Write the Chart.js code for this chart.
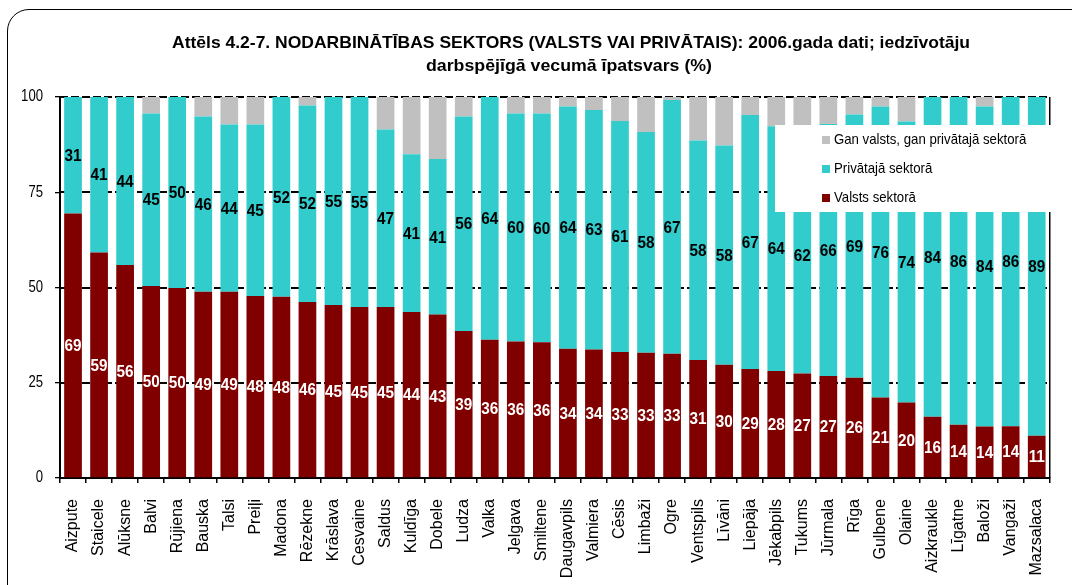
<!DOCTYPE html>
<html><head><meta charset="utf-8">
<script src="https://cdn.jsdelivr.net/npm/chart.js@4/dist/chart.umd.min.js"></script>
<style>
html,body{margin:0;padding:0;background:#fff;}
#wrap{position:relative;width:1072px;height:585px;overflow:hidden;}
#frame{position:absolute;left:7px;top:9px;width:1100px;height:640px;border:1.5px solid #000;border-radius:22px;box-sizing:border-box;}
canvas{position:absolute;left:0;top:0;}
</style></head><body>
<div id="wrap"><div id="frame"></div><canvas id="c" width="1072" height="585"></canvas></div>
<script>
const titleLines = [
  'Attēls 4.2-7. NODARBINĀTĪBAS SEKTORS (VALSTS VAI PRIVĀTAIS): 2006.gada dati; iedzīvotāju',
  'darbspējīgā vecumā īpatsvars (%)'
];
const categories = ['Aizpute','Staicele','Alūksne','Balvi','Rūjiena','Bauska','Talsi','Preiļi','Madona','Rēzekne',
  'Krāslava','Cesvaine','Saldus','Kuldīga','Dobele','Ludza','Valka','Jelgava','Smiltene','Daugavpils',
  'Valmiera','Cēsis','Limbaži','Ogre','Ventspils','Līvāni','Liepāja','Jēkabpils','Tukums','Jūrmala',
  'Rīga','Gulbene','Olaine','Aizkraukle','Līgatne','Baloži','Vangaži','Mazsalaca'];
const valsts = [69.4,59.2,55.9,50.4,49.9,48.9,48.9,47.8,47.6,46.2,
  45.4,44.9,44.9,43.6,42.9,38.6,36.3,35.8,35.6,33.9,
  33.7,33.1,32.9,32.6,31.0,29.7,28.6,28.1,27.4,26.8,
  26.3,21.1,19.8,16.1,14.0,13.5,13.6,11.1];
const privata = [30.6,40.8,44.1,45.3,50.1,46.0,43.9,45.0,52.4,51.6,
  54.6,55.1,46.6,41.4,40.8,56.3,63.7,59.9,60.1,63.6,
  62.9,60.6,57.9,66.6,57.6,57.6,66.7,64.2,62.0,66.1,
  69.1,76.4,73.8,83.9,86.0,84.0,86.4,88.9];
const abi = [0,0,0,4.3,0,5.1,7.2,7.2,0,2.2,
  0,0,8.5,15.0,16.3,5.1,0,4.3,4.3,2.5,
  3.4,6.3,9.2,0.8,11.4,12.7,4.7,7.7,10.6,7.1,
  4.6,2.5,6.4,0,0,2.5,0,0];
const yTicks = [0,25,50,75,100];
const seriesNames = ['Valsts sektorā','Privātajā sektorā','Gan valsts, gan privātajā sektorā'];
const seriesColors = ['#800000','#33CCCC','#C0C0C0'];

const FONT = "'Liberation Sans', Arial, sans-serif";

function narrowText(ctx, text, x, y, font, color, sx, align) {
  ctx.save();
  ctx.font = font; ctx.fillStyle = color; ctx.textBaseline = 'middle'; ctx.textAlign = align || 'center';
  ctx.translate(x, y); ctx.scale(sx, 1); ctx.fillText(text, 0, 0);
  ctx.restore();
}
function fitText(ctx, text, x, y, font, color, width, align) {
  ctx.save(); ctx.font = font; const w = ctx.measureText(text).width; ctx.restore();
  narrowText(ctx, text, x, y, font, color, width / w, align);
}

const decor = {
  id: 'decor',
  afterDraw(chart) {
    const ctx = chart.ctx;
    fitText(ctx, titleLines[0], 571, 43, 'bold 17px ' + FONT, '#000', 798, 'center');
    fitText(ctx, titleLines[1], 569, 66, 'bold 17px ' + FONT, '#000', 286, 'center');
    const ys = chart.scales.y;
    yTicks.forEach(v => {
      narrowText(ctx, String(v), 43, ys.getPixelForValue(v), '16px ' + FONT, '#000', 0.82, 'right');
    });
  },
  afterDatasetsDraw(chart) {
    const ctx = chart.ctx, ca = chart.chartArea, ys = chart.scales.y;
    ctx.save();
    ctx.globalCompositeOperation = 'destination-over';
    ctx.strokeStyle = '#000000'; ctx.lineWidth = 2; ctx.setLineDash([8, 3]);
    for (let k = 1; k < yTicks.length; k++) {
      const py = Math.round(ys.getPixelForValue(yTicks[k]));
      ctx.beginPath(); ctx.moveTo(ca.left, py); ctx.lineTo(ca.right, py); ctx.stroke();
    }
    ctx.restore();
    ctx.save(); ctx.strokeStyle = '#000'; ctx.lineWidth = 1.5;
    ctx.beginPath(); ctx.moveTo(ca.right, ca.top); ctx.lineTo(ca.right, ca.bottom); ctx.stroke(); ctx.restore();
    [0, 1].forEach(di => {
      const meta = chart.getDatasetMeta(di);
      meta.data.forEach((bar, i) => {
        const v = chart.data.datasets[di].data[i];
        const p = bar.getProps(['x', 'y', 'base'], true);
        narrowText(ctx, String(Math.round(v)), p.x, (p.y + p.base) / 2 + 1, 'bold 17px ' + FONT,
          di === 0 ? '#fff' : '#000', 0.9, 'center');
      });
    });
    ctx.save(); ctx.fillStyle = '#fff'; ctx.fillRect(775, 125, 300, 87); ctx.restore();
    const order = [2, 1, 0];
    order.forEach((si, k) => {
      const cy = 140 + k * 29;
      ctx.save(); ctx.fillStyle = seriesColors[si]; ctx.fillRect(822, cy - 4, 8, 8); ctx.restore();
      narrowText(ctx, seriesNames[si], 834, cy, '15px ' + FONT, '#000', 0.88, 'left');
    });
  }
};

new Chart(document.getElementById('c'), {
  type: 'bar',
  data: {
    labels: categories,
    datasets: [
      { label: seriesNames[0], data: valsts, backgroundColor: seriesColors[0] },
      { label: seriesNames[1], data: privata, backgroundColor: seriesColors[1] },
      { label: seriesNames[2], data: abi, backgroundColor: seriesColors[2] }
    ]
  },
  options: {
    responsive: false,
    animation: false,
    devicePixelRatio: 1,
    layout: { padding: { left: 0, right: 6, top: 97, bottom: 0 } },
    datasets: { bar: { barPercentage: 0.68, categoryPercentage: 1 } },
    plugins: { legend: { display: false }, title: { display: false }, tooltip: { enabled: false } },
    scales: {
      x: {
        stacked: true,
        afterFit: s => { s.height = 107; },
        grid: { offset: true, drawOnChartArea: false, drawTicks: true, tickLength: 5, color: '#000', lineWidth: 1.5 },
        border: { color: '#000', width: 2 },
        ticks: { autoSkip: false, maxRotation: 90, minRotation: 90, padding: 16, color: '#000', font: { family: FONT, size: 16 } }
      },
      y: {
        stacked: true, min: 0, max: 100,
        afterFit: s => { s.width = 60; },
        ticks: { stepSize: 25, display: false },
        grid: { color: '#000', lineWidth: 1.3, drawOnChartArea: false, drawTicks: true, tickLength: 5 },
        border: { color: '#000', width: 2 }
      }
    }
  },
  plugins: [decor]
});
</script>
</body></html>
